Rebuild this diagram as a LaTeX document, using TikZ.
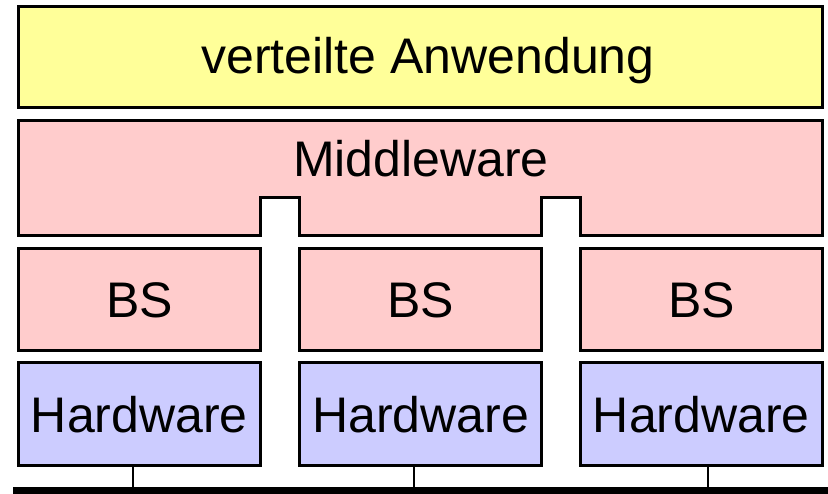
\documentclass[tikz,border=0pt]{standalone}
\usepackage{fontspec}
\setmainfont{Liberation Sans}
\usetikzlibrary{calc}
\definecolor{appyellow}{HTML}{FFFF99}
\definecolor{mwpink}{HTML}{FFCCCC}
\definecolor{hwblue}{HTML}{CCCCFF}
\begin{document}
\begin{tikzpicture}[x=1pt,y=-1pt,
  every node/.style={font=\fontsize{50}{60}\selectfont},
  layerbox/.style={draw=black, line width=3pt, inner sep=0pt,
    minimum width=242.7pt, minimum height=102pt, text height=36pt, text depth=0pt},
  bsbox/.style={layerbox, fill=mwpink},
  hwbox/.style={layerbox, fill=hwblue},
  txt/.style={inner sep=0pt, anchor=base},
  link/.style={draw=black, line width=2pt},
  bus/.style={draw=black, line width=7.5pt}
]
\useasboundingbox (0,0) rectangle (828,494);

% application layer
\node[draw=black, line width=3pt, fill=appyellow, inner sep=0pt,
      minimum width=804.7pt, minimum height=101pt] (app) at (420.35,57.5) {};
\node[txt] (apptext) at (428,73.3) {verteilte Anwendung};

% middleware with notches
\path[draw=black, line width=3pt, fill=mwpink, line join=miter]
  (18,121) -- (822.7,121) -- (822.7,236) -- (580,236) -- (580,198)
  -- (541.7,198) -- (541.7,236) -- (299.3,236) -- (299.3,198)
  -- (260.7,198) -- (260.7,236) -- (18,236) -- cycle;
\node[txt] (mw) at (421,176.7) {Middleware};

% operating systems
\node[bsbox] (bs1) at (139.35,300) {BS};
\node[bsbox] (bs2) at (420.5,300) {BS};
\node[bsbox] (bs3) at (701.35,300) {BS};

% hardware
\node[hwbox] (hw1) at (139.35,414) {Hardware};
\node[hwbox] (hw2) at (420.5,414) {Hardware};
\node[hwbox] (hw3) at (701.35,414) {Hardware};

% bus
\coordinate (busL) at (13,490.5);
\coordinate (busR) at (828,490.5);
\coordinate (b1) at (133.3,490.5);
\coordinate (b2) at (414,490.5);
\coordinate (b3) at (707.7,490.5);
\draw[link] (b1 |- hw1.south) -- (b1);
\draw[link] (b2 |- hw2.south) -- (b2);
\draw[link] (b3 |- hw3.south) -- (b3);
\draw[bus] (busL) -- (busR);
\end{tikzpicture}
\end{document}
